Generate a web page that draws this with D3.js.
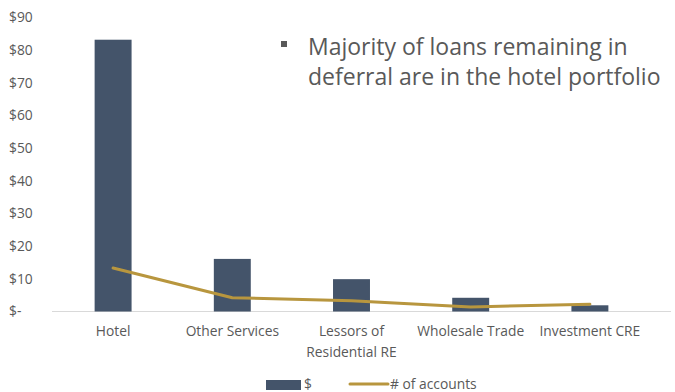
<!DOCTYPE html>
<html>
<head>
<meta charset="utf-8">
<script src="https://cdn.jsdelivr.net/npm/d3@7"></script>
<style>
  html, body { margin: 0; padding: 0; background: #fff; }
  svg { display: block; }
  text { font-family: "Open Sans", Lato, sans-serif; }
</style>
</head>
<body>
<svg id="chart" width="675" height="392"></svg>
<script>
// Loans remaining in deferral, by industry
const categories = ["Hotel", "Other Services", "Lessors of|Residential RE", "Wholesale Trade", "Investment CRE"];
const dollars = [83.2, 16.1, 9.9, 4.2, 1.9];       // $ (bars)
const accounts = [13.3, 4.2, 3.3, 1.4, 2.2];       // # of accounts (line)
const yTicks = [0, 10, 20, 30, 40, 50, 60, 70, 80, 90];
const noteLines = ["Majority of loans remaining in", "deferral are in the hotel portfolio"];

const svg = d3.select("#chart");
const barColor = "#44546A";
const lineColor = "#B8963E";
const textColor = "#595959";
const labelSize = "13.8px";

const x = d3.scaleBand().domain(categories).range([53.5, 649.5]).paddingInner(0.69).paddingOuter(0.345);
const y = d3.scaleLinear().domain([0, 90]).range([311.5, 17.5]);

// y axis labels (accounting format, left aligned)
const yAxis = svg.append("g").attr("transform", "translate(9,0)")
  .call(d3.axisLeft(y).tickValues(yTicks).tickSize(0)
    .tickFormat(d => d === 0 ? "$-" : "$" + d));
yAxis.select(".domain").remove();
yAxis.selectAll("text")
  .attr("x", 0)
  .attr("text-anchor", "start")
  .attr("fill", textColor)
  .style("font-size", labelSize);

// category baseline
svg.append("line")
  .attr("x1", 52).attr("x2", 671)
  .attr("y1", y(0)).attr("y2", y(0))
  .attr("stroke", "#D9D9D9").attr("stroke-width", 1);

// bars
svg.append("g").selectAll("rect").data(dollars).join("rect")
  .attr("x", (d, i) => x(categories[i]))
  .attr("y", d => y(d))
  .attr("width", x.bandwidth())
  .attr("height", d => y(0) - y(d))
  .attr("fill", barColor);

// line
const line = d3.line()
  .x((d, i) => x(categories[i]) + x.bandwidth() / 2)
  .y(d => y(d));
svg.append("path").datum(accounts)
  .attr("d", line)
  .attr("fill", "none")
  .attr("stroke", lineColor)
  .attr("stroke-width", 3)
  .attr("stroke-linejoin", "round")
  .attr("stroke-linecap", "round");

// category labels
const xAxis = svg.append("g");
categories.forEach(c => {
  const parts = c.split("|");
  const cx = x(c) + x.bandwidth() / 2;
  const t = xAxis.append("text")
    .attr("x", cx)
    .attr("y", 336)
    .attr("text-anchor", "middle")
    .attr("fill", textColor)
    .style("font-size", labelSize);
  parts.forEach((p, k) => {
    t.append("tspan").attr("x", cx).attr("dy", k === 0 ? 0 : 21).text(p);
  });
});

// legend
const legend = svg.append("g");
legend.append("rect").attr("x", 266).attr("y", 380).attr("width", 35).attr("height", 10).attr("fill", barColor);
legend.append("text").attr("x", 304).attr("y", 389).attr("fill", textColor).style("font-size", labelSize).text("$");
legend.append("line").attr("x1", 350).attr("x2", 388).attr("y1", 384).attr("y2", 384)
  .attr("stroke", lineColor).attr("stroke-width", 3).attr("stroke-linecap", "round");
legend.append("text").attr("x", 390).attr("y", 389).attr("fill", textColor).style("font-size", labelSize).text("# of accounts");

// annotation
const note = svg.append("g");
note.append("rect").attr("x", 281).attr("y", 41).attr("width", 6).attr("height", 6).attr("fill", "#595959");
noteLines.forEach((s, i) => {
  note.append("text")
    .attr("x", 308).attr("y", 55 + i * 30)
    .attr("fill", "#595959")
    .style("font-size", "23px")
    .text(s);
});
</script>
</body>
</html>
